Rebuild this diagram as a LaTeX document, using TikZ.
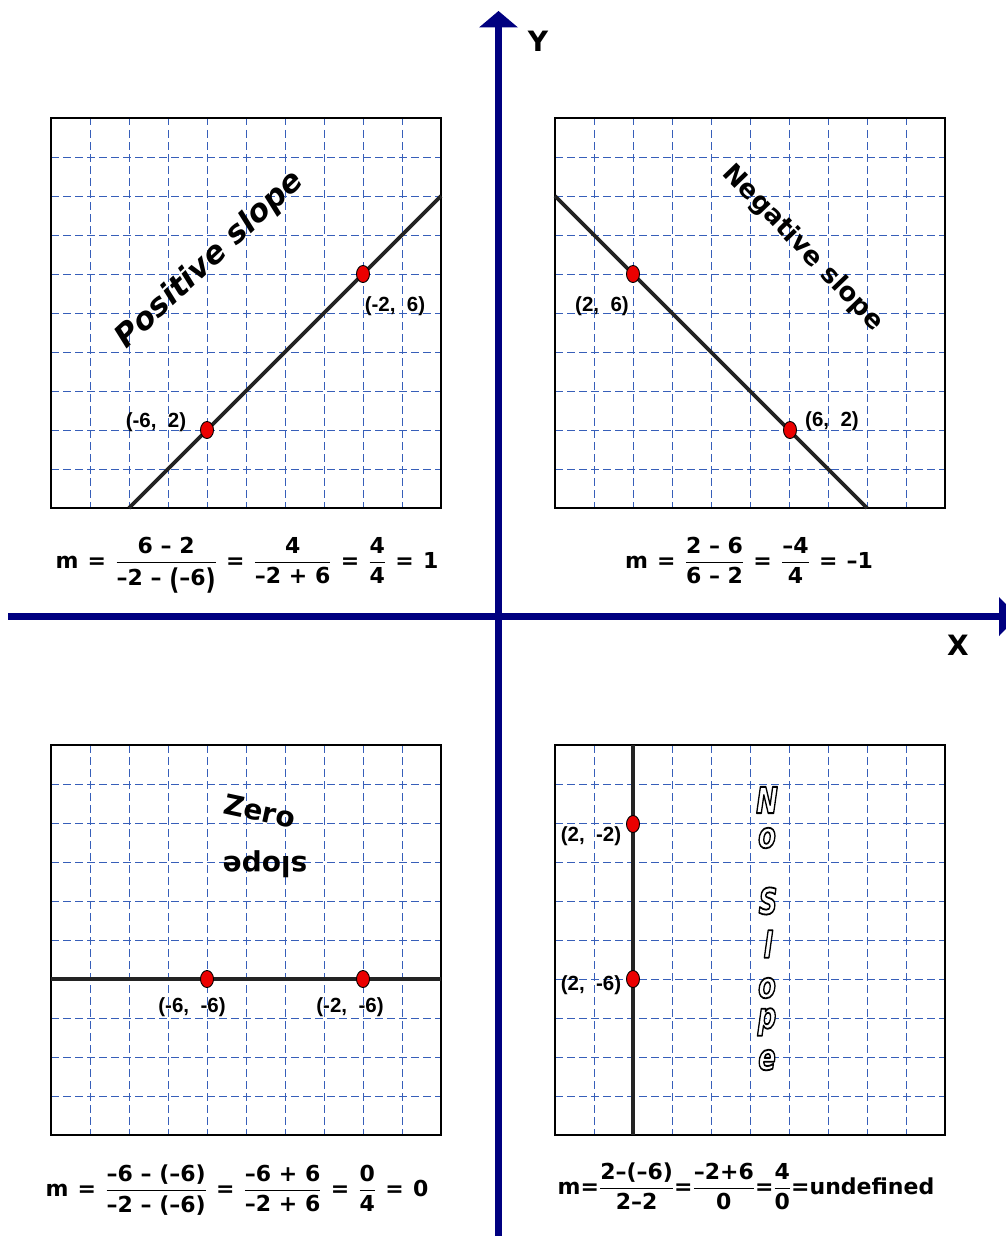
\documentclass[tikz,border=0pt]{standalone}
\usepackage{fontspec}
\usepackage{amsmath}
\usetikzlibrary{shapes.geometric}
\newfontfamily\comic{DejaVu Sans}
\newfontfamily\arialf{Liberation Sans}
\definecolor{navy}{RGB}{0,0,128}
\definecolor{gridblue}{RGB}{55,95,185}
\definecolor{ptred}{RGB}{235,0,0}
\definecolor{lineblk}{RGB}{35,35,35}
\newcommand\fr[2]{\genfrac{}{}{1.3pt}{0}{\text{#1}}{\text{#2}}}
\newcommand\tx[1]{\text{#1}}
\newcommand\eq{\text{\hspace{0.42em}=\hspace{0.42em}}}
\newcommand\bigpar[1]{\raisebox{-0.14em}{\scalebox{1}[1.3]{#1}}}
\newcommand\hollow[1]{\scalebox{0.72}[1]{\textcolor{white}{\special{pdf:code 0 G 1.8 w 1 j 2 Tr}#1\special{pdf:code 0 Tr}}}}
\newcommand\panelgrid[2]{%
  \foreach \k in {1,...,9} {%
    \draw[gridline] (#1+39*\k,#2) -- ++(0,390);
    \draw[gridline] (#1,#2+39*\k) -- ++(390,0);
  }%
  \draw[frame] (#1,#2) rectangle ++(390,390);
}
\begin{document}
\begin{tikzpicture}[x=1pt,y=-1pt,
  axis/.style={navy,line width=7pt},
  gridline/.style={gridblue,line width=1pt,dash pattern=on 7.5pt off 4.5pt},
  frame/.style={black,line width=2.2pt},
  slopeline/.style={lineblk,line width=3.8pt},
  pt/.style={shape=ellipse,minimum width=13pt,minimum height=17pt,inner sep=0pt,fill=ptred,draw=black,line width=0.9pt},
  ptlabel/.style={font=\arialf\bfseries\fontsize{20.5}{20.5}\selectfont,inner sep=0pt},
  formula/.style={font=\comic\bfseries\fontsize{22}{26}\selectfont,inner sep=0pt,anchor=base},
  bigword/.style={font=\comic\bfseries\fontsize{28}{28}\selectfont,inner sep=0pt},
  hletter/.style={font=\comic\bfseries\itshape\fontsize{36}{36}\selectfont,inner sep=0pt},
  axlabel/.style={font=\comic\bfseries\fontsize{28}{28}\selectfont,inner sep=0pt}
]
\useasboundingbox (0,0) rectangle (1005,1236);
\fill[white] (0,0) rectangle (1005,1236);

% panels
\panelgrid{51}{118}
\panelgrid{555}{118}
\panelgrid{51}{745}
\panelgrid{555}{745}

% slope lines
\coordinate (a1) at (129,508);
\coordinate (a2) at (441,196);
\coordinate (b1) at (555,196);
\coordinate (b2) at (867,508);
\coordinate (c1) at (51,979);
\coordinate (c2) at (441,979);
\coordinate (d1) at (633,745);
\coordinate (d2) at (633,1135);
\draw[slopeline] (a1) -- (a2);
\draw[slopeline] (b1) -- (b2);
\draw[slopeline] (c1) -- (c2);
\draw[slopeline] (d1) -- (d2);

% points
\node[pt] (p1) at (207,430) {};
\node[pt] (p2) at (363,274) {};
\node[pt] (p3) at (633,274) {};
\node[pt] (p4) at (790,430) {};
\node[pt] (p5) at (207,979) {};
\node[pt] (p6) at (363,979) {};
\node[pt] (p7) at (633,824) {};
\node[pt] (p8) at (633,979) {};

% point labels
\node[ptlabel] (l1) at (156,422) {(-6,\ \ 2)};
\node[ptlabel] (l2) at (395,306) {(-2,\ \ 6)};
\node[ptlabel] (l3) at (602,306) {(2,\ \ 6)};
\node[ptlabel] (l4) at (832,421) {(6,\ \ 2)};
\node[ptlabel] (l5) at (192,1007) {(-6,\ \ -6)};
\node[ptlabel] (l6) at (350,1007) {(-2,\ \ -6)};
\node[ptlabel] (l7) at (591,836) {(2,\ \ -2)};
\node[ptlabel] (l8) at (591,985) {(2,\ \ -6)};

% titles
\node[bigword,rotate=43,font=\comic\bfseries\itshape\fontsize{31}{31}\selectfont] (tpos) at (210,260) {Positive slope};
\node[bigword,rotate=-46,font=\comic\bfseries\fontsize{26}{26}\selectfont] (tneg) at (803,248) {Negative slope};
\node[bigword,rotate=-12] (tzero) at (260,811) {Zero};
\node[bigword,rotate=180] (tslope) at (265,864) {slope};
\node[hletter] (n1) at (767,800) {\hollow{N}};
\node[hletter] (n2) at (767,838) {\hollow{o}};
\node[hletter] (n3) at (768,901) {\hollow{S}};
\node[hletter] (n4) at (768,944) {\hollow{l}};
\node[hletter] (n5) at (767,988) {\hollow{o}};
\node[hletter] (n6) at (767,1022) {\hollow{p}};
\node[hletter] (n7) at (767,1060) {\hollow{e}};

% formulas
\node[formula] (f1) at (247,568) {$\displaystyle\tx{m}\eq\fr{6 – 2}{–2 – \bigpar{(}–6\bigpar{)}}\eq\fr{4}{–2 + 6}\eq\fr{4}{4}\eq\tx{1}$};
\node[formula] (f2) at (749,568) {$\displaystyle\tx{m}\eq\fr{2 – 6}{6 – 2}\eq\fr{–4}{4}\eq\tx{–1}$};
\node[formula] (f3) at (237,1196) {$\displaystyle\tx{m}\eq\fr{–6 – (–6)}{–2 – (–6)}\eq\fr{–6 + 6}{–2 + 6}\eq\fr{0}{4}\eq\tx{0}$};
\node[formula] (f4) at (746,1194) {$\displaystyle\tx{m=}\fr{2–(–6)}{2–2}\tx{=}\fr{–2+6}{0}\tx{=}\fr{4}{0}\tx{=undefined}$};

% axes
\coordinate (yb) at (498.5,1236);
\coordinate (yt) at (498.5,27);
\coordinate (xl) at (8,616.5);
\coordinate (xr) at (1000,616.5);
\draw[axis] (yb) -- (yt);
\draw[axis] (xl) -- (xr);
\fill[navy] (498.5,11) -- (479,27.5) -- (518,27.5) -- cycle;
\fill[navy] (999,597) -- (1018,616.5) -- (999,636) -- cycle;
\node[axlabel] (ylab) at (538,41) {Y};
\node[axlabel] (xlab) at (958,645) {X};
\end{tikzpicture}
\end{document}
